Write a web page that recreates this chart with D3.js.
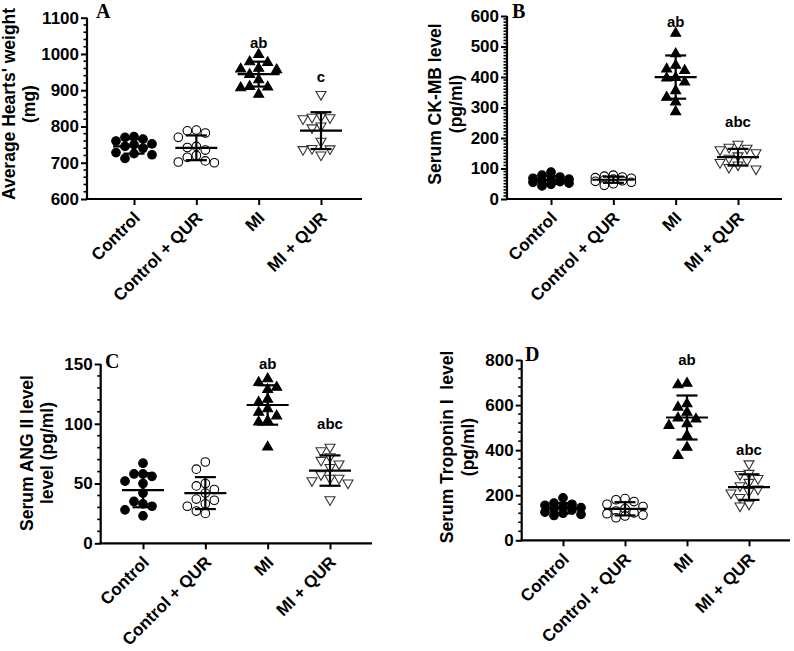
<!DOCTYPE html>
<html><head><meta charset="utf-8">
<script src="https://cdn.jsdelivr.net/npm/d3@7"></script>
<style>body{margin:0;background:#fff}svg{display:block}</style>
</head><body>
<svg id="chart" width="794" height="651"></svg>
<script>
// ---------- DATA ----------
const categories = ["Control", "Control + QUR", "MI", "MI + QUR"];

const heartWeightValues = [
  [772, 770, 765, 760, 752, 750, 745, 740, 728, 725, 722, 712],
  [790, 788, 782, 770, 745, 742, 735, 720, 715, 705, 702, 700],
  [1000, 980, 978, 962, 960, 958, 945, 930, 912, 910, 908, 890],
  [887, 826, 820, 823, 824, 800, 795, 758, 720, 738, 735, 737]
];
const ckmbValues = [
  [88, 78, 72, 68, 65, 62, 60, 57, 55, 52, 48, 43],
  [78, 75, 72, 70, 68, 65, 62, 60, 58, 55, 50, 45],
  [545, 478, 440, 423, 428, 400, 398, 385, 357, 335, 320, 288],
  [178, 168, 165, 160, 150, 140, 132, 125, 118, 110, 102, 97]
];
const angValues = [
  [67, 58, 58, 56, 52, 50, 42, 35, 33, 31, 28, 23],
  [68, 62, 50, 48, 45, 42, 37, 36, 33, 31, 27, 25],
  [135, 138, 131, 129, 121, 118.5, 113, 107, 110, 103, 102, 81],
  [80, 77, 72, 69, 66, 63, 57, 54, 54, 52, 50, 36]
];
const troponinValues = [
  [188, 165, 160, 155, 150, 145, 140, 135, 125, 120, 115, 110],
  [185, 180, 172, 160, 150, 140, 130, 122, 118, 112, 108, 100],
  [699, 692, 608, 593, 570, 545, 540, 519, 512, 467, 415, 378],
  [337, 295, 290, 272, 255, 240, 225, 215, 208, 188, 158, 150]
];

const heartTicks = [600, 700, 800, 900, 1000, 1100];
const ckmbTicks = [0, 100, 200, 300, 400, 500, 600];
const angTicks = [0, 50, 100, 150];
const troponinTicks = [0, 200, 400, 600, 800];

const heartSig = ["", "", "ab", "c"];
const ckmbSig = ["", "", "ab", "abc"];
const angSig = ["", "", "ab", "abc"];
const troponinSig = ["", "", "ab", "abc"];

// significance-letter anchor values (data units)
const heartSigAt = [null, null, 1031, 937];
const ckmbSigAt = [null, null, 580, 253];
const angSigAt = [null, null, 150, 100];
const troponinSigAt = [null, null, 800, 400];

// ---------- LAYOUT ----------
const panels = [
  { letter: "A", values: heartWeightValues, ticks: heartTicks, minorStep: 20, sig: heartSig, sigAt: heartSigAt,
    title: ["Average Hearts' weight", "(mg)"],
    axisX: 87, top: 17.7, bottom: 199, x0: 134, x1: 321, xEnd: 362, titleX: [15, 35], titleY: 104, letterXY: [96, 18] },
  { letter: "B", values: ckmbValues, ticks: ckmbTicks, minorStep: 10, sig: ckmbSig, sigAt: ckmbSigAt,
    title: ["Serum CK-MB level", "(pg/ml)"],
    axisX: 507, top: 16, bottom: 199, x0: 551, x1: 738, xEnd: 782, titleX: [441, 462], titleY: 104, letterXY: [512, 18] },
  { letter: "C", values: angValues, ticks: angTicks, minorStep: 10, sig: angSig, sigAt: angSigAt,
    title: ["Serum ANG II level", "level (pg/ml)"],
    axisX: 100.7, top: 364, bottom: 543.3, x0: 143, x1: 330, xEnd: 372, titleX: [33, 53], titleY: 453, letterXY: [105, 368] },
  { letter: "D", values: troponinValues, ticks: troponinTicks, minorStep: 40, sig: troponinSig, sigAt: troponinSigAt,
    title: ["Serum Troponin I  level", "(pg/ml)"],
    axisX: 521.7, top: 360, bottom: 540.3, x0: 563, x1: 749, xEnd: 790, titleX: [453, 474], titleY: 447, letterXY: [525, 361] }
];

const svg = d3.select("#chart");
const FONT = "'Liberation Sans', Arial, sans-serif";
const R = 4.3;

function markerPath(type, s) {
  const h = s * 0.866;
  if (type === "up") return `M0,${-h * 0.6}L${s / 2},${h * 0.4}L${-s / 2},${h * 0.4}Z`;
  return `M0,${h * 0.6}L${s / 2},${-h * 0.4}L${-s / 2},${-h * 0.4}Z`;
}

// deterministic bounded beeswarm offsets
function swarm(vals, y, rad, maxOff) {
  const pts = vals.map(v => ({ v, py: y(v), off: 0 }));
  const order = pts.slice().sort((a, b) => a.py - b.py);
  const placed = [];
  const step = rad * 2;
  const minD = rad * 1.9;
  const cands = [0];
  for (let k = 1; k * step <= maxOff + 0.01; k++) { cands.push(-k * step, k * step); }
  order.forEach(p => {
    let best = null, bestD = -1;
    for (const off of cands) {
      const d = placed.length ? d3.min(placed, q => Math.hypot(off - q.off, p.py - q.py)) : Infinity;
      if (d >= minD) { best = off; bestD = d; break; }
      if (d > bestD) { bestD = d; best = off; }
    }
    p.off = best;
    placed.push(p);
  });
  return pts;
}

panels.forEach(P => {
  const g = svg.append("g");
  const dom = [P.ticks[0], P.ticks[P.ticks.length - 1]];
  const y = d3.scaleLinear().domain(dom).range([P.bottom, P.top]);
  const x = d3.scalePoint().domain(categories).range([P.x0, P.x1]);

  // y axis
  const yAxis = d3.axisLeft(y).tickValues(P.ticks).tickSize(6).tickPadding(2).tickFormat(d3.format("d"));
  const ya = g.append("g").attr("transform", `translate(${P.axisX},0)`).call(yAxis);
  ya.select(".domain").attr("d", `M0,${P.top}V${P.bottom}`).attr("stroke", "#000").attr("stroke-width", 2.2);
  ya.selectAll(".tick line").attr("stroke", "#000").attr("stroke-width", 2);
  ya.selectAll(".tick text").attr("font-family", FONT).attr("font-weight", "bold").attr("font-size", 17).attr("fill", "#000");
  const minors = d3.range(dom[0], dom[1] + 1e-9, P.minorStep).filter(v => !P.ticks.includes(v));
  g.selectAll(".minor").data(minors).join("line")
    .attr("x1", P.axisX - 3.5).attr("x2", P.axisX).attr("y1", d => y(d)).attr("y2", d => y(d))
    .attr("stroke", "#000").attr("stroke-width", 1.6);

  // x axis
  const xAxis = d3.axisBottom(x).tickSize(6).tickFormat("");
  const xa = g.append("g").attr("transform", `translate(0,${P.bottom})`).call(xAxis);
  xa.select(".domain").attr("d", `M${P.axisX - 1},0H${P.xEnd}`).attr("stroke", "#000").attr("stroke-width", 2.2);
  xa.selectAll(".tick line").attr("stroke", "#000").attr("stroke-width", 2);
  g.selectAll(".xl").data(categories).join("text")
    .attr("transform", d => `translate(${x(d) + 7},${P.bottom + 20}) rotate(-45)`)
    .attr("text-anchor", "end")
    .attr("font-family", FONT).attr("font-weight", "bold").attr("font-size", 17)
    .text(d => d);

  // y title
  P.title.forEach((t, i) => {
    g.append("text")
      .attr("transform", `translate(${P.titleX[i]},${P.titleY}) rotate(-90)`)
      .attr("text-anchor", "middle")
      .style("white-space", "pre")
      .attr("font-family", FONT).attr("font-weight", "bold").attr("font-size", 17.5)
      .text(t);
  });

  // panel letter
  g.append("text").attr("x", P.letterXY[0]).attr("y", P.letterXY[1])
    .attr("font-family", "'Liberation Serif', 'Times New Roman', serif").attr("font-weight", "bold")
    .attr("font-size", 20).text(P.letter);

  // points
  P.values.forEach((vals, gi) => {
    const cx = x(categories[gi]);
    const pts = swarm(vals, y, R + 0.2, 19);
    const grp = g.append("g");
    if (gi < 2) {
      grp.selectAll("circle").data(pts).join("circle")
        .attr("cx", d => cx + d.off).attr("cy", d => d.py).attr("r", R)
        .attr("fill", gi === 0 ? "#000" : "#fff").attr("stroke", "#000").attr("stroke-width", 1.1);
    } else {
      grp.selectAll("path").data(pts).join("path")
        .attr("transform", d => `translate(${cx + d.off},${d.py})`)
        .attr("d", markerPath(gi === 2 ? "up" : "down", 10))
        .attr("fill", gi === 2 ? "#000" : "#fff")
        .attr("stroke", gi === 2 ? "#000" : "#333").attr("stroke-width", 1.1);
    }
    // mean & SD
    const m = d3.mean(vals), sd = d3.deviation(vals);
    const lg = g.append("g").attr("stroke", "#000").attr("stroke-width", 2.2);
    lg.append("line").attr("x1", cx - 21).attr("x2", cx + 21).attr("y1", y(m)).attr("y2", y(m));
    lg.append("line").attr("x1", cx).attr("x2", cx).attr("y1", y(m + sd)).attr("y2", y(m - sd));
    lg.append("line").attr("x1", cx - 10.5).attr("x2", cx + 10.5).attr("y1", y(m + sd)).attr("y2", y(m + sd));
    lg.append("line").attr("x1", cx - 10.5).attr("x2", cx + 10.5).attr("y1", y(m - sd)).attr("y2", y(m - sd));

    if (P.sig[gi]) {
      g.append("text").attr("x", cx).attr("y", y(P.sigAt[gi]) + 5)
        .attr("text-anchor", "middle").attr("font-family", FONT).attr("font-weight", "bold")
        .attr("font-size", 15).text(P.sig[gi]);
    }
  });
});
</script>
</body></html>
